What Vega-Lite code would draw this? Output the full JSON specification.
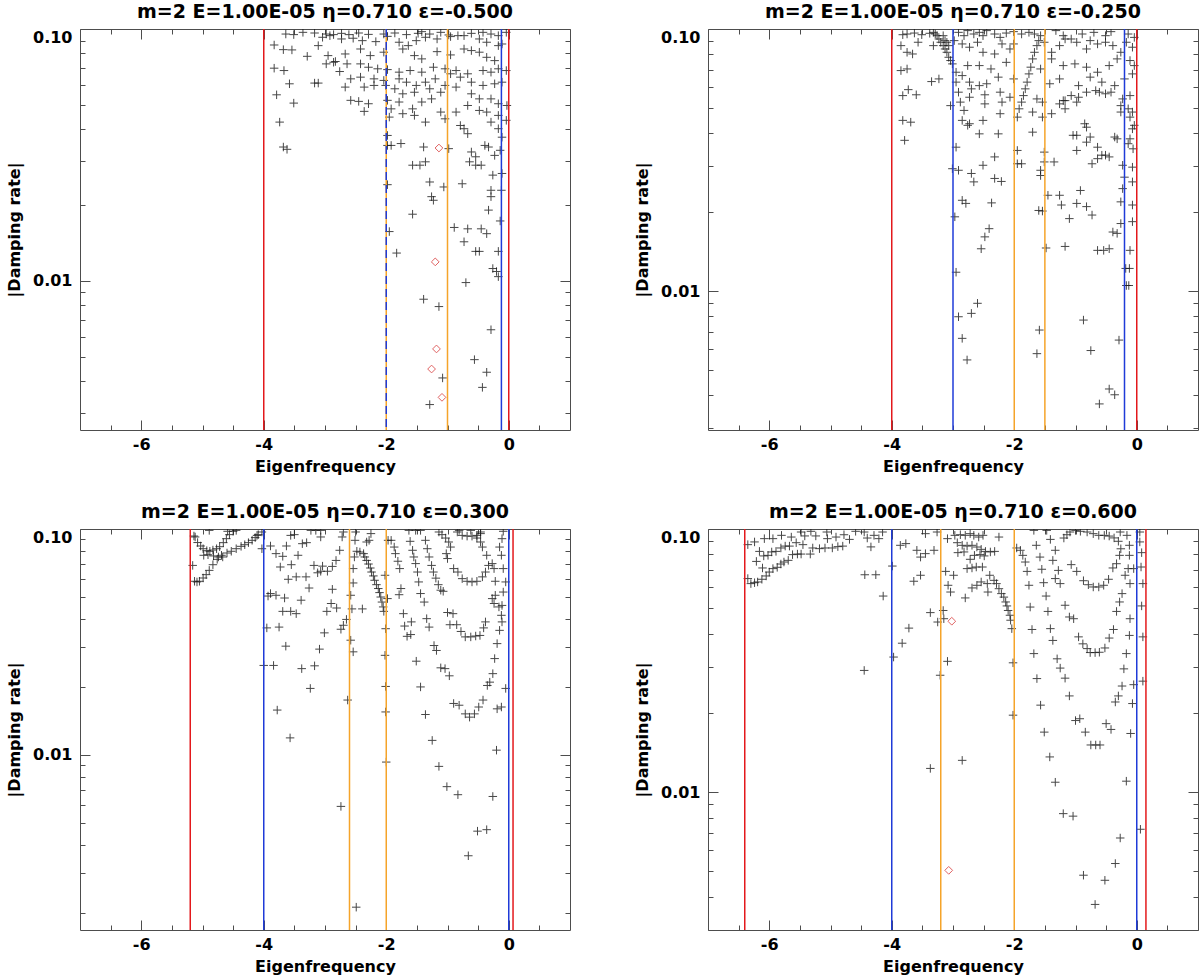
{
  "$schema": "https://vega.github.io/schema/vega-lite/v6.json",
  "background": "white",
  "padding": {"left": 6, "top": 2, "right": 2, "bottom": 2},
  "columns": 2,
  "bounds": "flush",
  "spacing": {"row": 99, "column": 138},
  "datasets": {
    "lines": [
      {"p": 1, "x": -4, "c": "red", "d": "s"}, {"p": 1, "x": 0, "c": "red", "d": "s"}, {"p": 1, "x": -0.12, "c": "blue", "d": "s"}, {"p": 1, "x": -1, "c": "orange", "d": "s"}, {"p": 1, "x": -2, "c": "orange", "d": "s"}, {"p": 1, "x": -2, "c": "blue", "d": "d"},
      {"p": 2, "x": -4, "c": "red", "d": "s"}, {"p": 2, "x": 0, "c": "red", "d": "s"}, {"p": 2, "x": -3, "c": "blue", "d": "s"}, {"p": 2, "x": -0.2, "c": "blue", "d": "s"}, {"p": 2, "x": -2, "c": "orange", "d": "s"}, {"p": 2, "x": -1.5, "c": "orange", "d": "s"},
      {"p": 3, "x": -5.2, "c": "red", "d": "s"}, {"p": 3, "x": 0.07, "c": "red", "d": "s"}, {"p": 3, "x": -4, "c": "blue", "d": "s"}, {"p": 3, "x": 0, "c": "blue", "d": "s"}, {"p": 3, "x": -2.6, "c": "orange", "d": "s"}, {"p": 3, "x": -2, "c": "orange", "d": "s"},
      {"p": 4, "x": -6.4, "c": "red", "d": "s"}, {"p": 4, "x": 0.15, "c": "red", "d": "s"}, {"p": 4, "x": -4, "c": "blue", "d": "s"}, {"p": 4, "x": 0, "c": "blue", "d": "s"}, {"p": 4, "x": -3.2, "c": "orange", "d": "s"}, {"p": 4, "x": -2, "c": "orange", "d": "s"}
    ],
    "dia": [
      {"p": 1, "x": -1.14, "y": 0.0337}, {"p": 1, "x": -1.2, "y": 0.0119}, {"p": 1, "x": -1.18, "y": 0.00537}, {"p": 1, "x": -1.26, "y": 0.00447}, {"p": 1, "x": -1.09, "y": 0.00345},
      {"p": 4, "x": -3.02, "y": 0.0446}, {"p": 4, "x": -3.07, "y": 0.00504}
    ],
    "pts": [
      {"p":1,"x":-3.64,"y":0.0955},{"p":1,"x":-3.51,"y":0.095},{"p":1,"x":-3.36,"y":0.097},{"p":1,"x":-3.17,"y":0.0964},{"p":1,"x":-2.98,"y":0.0955},{"p":1,"x":-2.86,"y":0.095},{"p":1,"x":-2.73,"y":0.0961},{"p":1,"x":-2.61,"y":0.095},{"p":1,"x":-2.45,"y":0.0964},{"p":1,"x":-2.29,"y":0.0952},{"p":1,"x":-2.04,"y":0.0955},{"p":1,"x":-1.86,"y":0.0964},{"p":1,"x":-1.67,"y":0.095},{"p":1,"x":-1.48,"y":0.0961},{"p":1,"x":-1.42,"y":0.0976},{"p":1,"x":-1.29,"y":0.0955},{"p":1,"x":-1.11,"y":0.097},{"p":1,"x":-0.98,"y":0.0947},{"p":1,"x":-0.83,"y":0.0941},{"p":1,"x":-0.61,"y":0.0961},{"p":1,"x":-0.42,"y":0.097},{"p":1,"x":-0.29,"y":0.0955},{"p":1,"x":-0.17,"y":0.0941},{"p":1,"x":-0.04,"y":0.097},
      {"p":1,"x":-3.04,"y":0.0927},{"p":1,"x":-2.92,"y":0.0941},{"p":1,"x":-2.73,"y":0.0913},{"p":1,"x":-2.54,"y":0.0919},{"p":1,"x":-2.39,"y":0.0899},{"p":1,"x":-2.17,"y":0.0891},{"p":1,"x":-1.98,"y":0.0935},{"p":1,"x":-1.79,"y":0.0886},{"p":1,"x":-1.64,"y":0.0859},{"p":1,"x":-1.51,"y":0.0899},{"p":1,"x":-1.36,"y":0.0927},{"p":1,"x":-1.17,"y":0.0913},{"p":1,"x":-0.95,"y":0.0933},{"p":1,"x":-0.73,"y":0.0941},{"p":1,"x":-0.48,"y":0.0913},{"p":1,"x":-0.36,"y":0.0886},{"p":1,"x":-0.11,"y":0.0872},{"p":1,"x":-0.17,"y":0.0859},
      {"p":1,"x":-3.83,"y":0.0864},{"p":1,"x":-3.68,"y":0.0828},{"p":1,"x":-3.54,"y":0.0826},{"p":1,"x":-3.29,"y":0.0779},{"p":1,"x":-2.95,"y":0.0784},{"p":1,"x":-3.11,"y":0.0859},{"p":1,"x":-2.86,"y":0.0738},{"p":1,"x":-2.67,"y":0.0796},{"p":1,"x":-2.42,"y":0.0833},{"p":1,"x":-2.26,"y":0.0784},{"p":1,"x":-2.04,"y":0.0809},{"p":1,"x":-1.73,"y":0.0833},{"p":1,"x":-1.54,"y":0.0784},{"p":1,"x":-1.42,"y":0.0761},{"p":1,"x":-1.17,"y":0.0813},{"p":1,"x":-0.95,"y":0.0789},{"p":1,"x":-0.73,"y":0.0833},{"p":1,"x":-0.61,"y":0.0821},{"p":1,"x":-0.48,"y":0.0809},{"p":1,"x":-0.36,"y":0.0772},{"p":1,"x":-0.23,"y":0.0749},
      {"p":1,"x":-2.98,"y":0.0727},{"p":1,"x":-2.83,"y":0.0743},{"p":1,"x":-2.64,"y":0.0727},{"p":1,"x":-2.42,"y":0.0727},{"p":1,"x":-2.29,"y":0.0705},{"p":1,"x":-2.14,"y":0.0695},{"p":1,"x":-1.98,"y":0.069},{"p":1,"x":-1.79,"y":0.0674},{"p":1,"x":-1.61,"y":0.0684},{"p":1,"x":-1.42,"y":0.0674},{"p":1,"x":-1.23,"y":0.0705},{"p":1,"x":-1.04,"y":0.0695},{"p":1,"x":-0.86,"y":0.0684},{"p":1,"x":-0.67,"y":0.0664},{"p":1,"x":-0.42,"y":0.0684},{"p":1,"x":-0.17,"y":0.0695},{"p":1,"x":-0.04,"y":0.0684},{"p":1,"x":-0.29,"y":0.0674},
      {"p":1,"x":-3.83,"y":0.0699},{"p":1,"x":-3.67,"y":0.0684},{"p":1,"x":-2.76,"y":0.0678},{"p":1,"x":-2.58,"y":0.0634},{"p":1,"x":-2.42,"y":0.0644},{"p":1,"x":-2.2,"y":0.0634},{"p":1,"x":-2.04,"y":0.0625},{"p":1,"x":-1.79,"y":0.0634},{"p":1,"x":-1.67,"y":0.0615},{"p":1,"x":-1.51,"y":0.0597},{"p":1,"x":-1.36,"y":0.0615},{"p":1,"x":-1.2,"y":0.0634},{"p":1,"x":-1.04,"y":0.0597},{"p":1,"x":-0.95,"y":0.0664},{"p":1,"x":-0.79,"y":0.0644},{"p":1,"x":-0.61,"y":0.0615},{"p":1,"x":-0.42,"y":0.0597},{"p":1,"x":-0.23,"y":0.0606},{"p":1,"x":-0.11,"y":0.0615},
      {"p":1,"x":-3.58,"y":0.0606},{"p":1,"x":-3.17,"y":0.061},{"p":1,"x":-3.11,"y":0.061},{"p":1,"x":-2.67,"y":0.0588},{"p":1,"x":-2.36,"y":0.0588},{"p":1,"x":-2.2,"y":0.0597},{"p":1,"x":-2.01,"y":0.0597},{"p":1,"x":-1.86,"y":0.0579},{"p":1,"x":-1.73,"y":0.0553},{"p":1,"x":-1.54,"y":0.0561},{"p":1,"x":-1.29,"y":0.0579},{"p":1,"x":-1.11,"y":0.0561},{"p":1,"x":-0.86,"y":0.0588},{"p":1,"x":-0.61,"y":0.0553},{"p":1,"x":-0.48,"y":0.0528},{"p":1,"x":-0.29,"y":0.0528},{"p":1,"x":-0.17,"y":0.0505},{"p":1,"x":-0.03,"y":0.0497},
      {"p":1,"x":-3.79,"y":0.0548},{"p":1,"x":-3.51,"y":0.0508},{"p":1,"x":-2.58,"y":0.0521},{"p":1,"x":-2.45,"y":0.0516},{"p":1,"x":-2.29,"y":0.0505},{"p":1,"x":-1.98,"y":0.0521},{"p":1,"x":-1.79,"y":0.0513},{"p":1,"x":-1.57,"y":0.0482},{"p":1,"x":-1.42,"y":0.0513},{"p":1,"x":-1.26,"y":0.0528},{"p":1,"x":-1.11,"y":0.0468},{"p":1,"x":-0.86,"y":0.0468},{"p":1,"x":-0.67,"y":0.0497},{"p":1,"x":-0.48,"y":0.0475},{"p":1,"x":-0.36,"y":0.0468},{"p":1,"x":-0.17,"y":0.0454},{"p":1,"x":-0.04,"y":0.0434},
      {"p":1,"x":-2.36,"y":0.0471},{"p":1,"x":-1.95,"y":0.0447},{"p":1,"x":-1.92,"y":0.0482},{"p":1,"x":-1.73,"y":0.0461},{"p":1,"x":-1.54,"y":0.0454},{"p":1,"x":-1.36,"y":0.0427},{"p":1,"x":-1.04,"y":0.044},{"p":1,"x":-0.79,"y":0.0414},{"p":1,"x":-0.73,"y":0.0402},{"p":1,"x":-0.67,"y":0.0384},{"p":1,"x":-0.29,"y":0.0427},{"p":1,"x":-0.17,"y":0.0402},{"p":1,"x":-0.11,"y":0.0372},
      {"p":1,"x":-3.74,"y":0.0427},{"p":1,"x":-1.98,"y":0.0378},{"p":1,"x":-1.98,"y":0.0345},{"p":1,"x":-1.92,"y":0.0345},{"p":1,"x":-1.76,"y":0.0351},{"p":1,"x":-1.39,"y":0.034},{"p":1,"x":-0.98,"y":0.0335},{"p":1,"x":-0.61,"y":0.0325},{"p":1,"x":-0.54,"y":0.0311},{"p":1,"x":-0.39,"y":0.0345},{"p":1,"x":-0.33,"y":0.034},{"p":1,"x":-0.23,"y":0.0315},{"p":1,"x":-0.14,"y":0.033},
      {"p":1,"x":-3.68,"y":0.034},{"p":1,"x":-3.62,"y":0.0333},
      {"p":1,"x":-1.57,"y":0.0288},{"p":1,"x":-1.45,"y":0.0288},{"p":1,"x":-1.36,"y":0.0297},{"p":1,"x":-0.64,"y":0.0297},{"p":1,"x":-0.54,"y":0.0288},{"p":1,"x":-0.45,"y":0.0288},{"p":1,"x":-0.26,"y":0.0263},{"p":1,"x":-0.11,"y":0.0267},
      {"p":1,"x":-1.29,"y":0.0247},{"p":1,"x":-1.06,"y":0.0236},{"p":1,"x":-0.76,"y":0.0243},{"p":1,"x":-1.98,"y":0.0241},{"p":1,"x":-0.29,"y":0.0229},{"p":1,"x":-0.12,"y":0.0229},
      {"p":1,"x":-1.26,"y":0.0216},{"p":1,"x":-1.23,"y":0.0209},{"p":1,"x":-0.29,"y":0.0216},
      {"p":1,"x":-0.33,"y":0.0191},{"p":1,"x":-1.57,"y":0.0184},{"p":1,"x":-0.14,"y":0.0173},
      {"p":1,"x":-1.95,"y":0.0157},{"p":1,"x":-0.89,"y":0.0163},{"p":1,"x":-0.67,"y":0.0161},{"p":1,"x":-0.45,"y":0.0161},{"p":1,"x":-0.36,"y":0.0154},{"p":1,"x":-0.73,"y":0.0143},{"p":1,"x":-0.54,"y":0.0131},{"p":1,"x":-0.48,"y":0.0131},{"p":1,"x":-1.83,"y":0.0129},{"p":1,"x":-0.17,"y":0.0131},
      {"p":1,"x":-0.26,"y":0.0112},{"p":1,"x":-0.2,"y":0.0109},{"p":1,"x":-0.17,"y":0.0104},{"p":1,"x":-0.7,"y":0.00985},
      {"p":1,"x":-1.39,"y":0.00846},{"p":1,"x":-1.14,"y":0.00791},{"p":1,"x":-0.29,"y":0.0064},
      {"p":1,"x":-0.56,"y":0.00487},{"p":1,"x":-0.36,"y":0.00434},{"p":1,"x":-1.08,"y":0.00412},{"p":1,"x":-0.43,"y":0.00378},{"p":1,"x":-1.29,"y":0.00323},

      {"p":2,"x":-3.82,"y":0.0951},{"p":2,"x":-3.75,"y":0.0957},{"p":2,"x":-3.63,"y":0.0965},{"p":2,"x":-3.51,"y":0.0951},{"p":2,"x":-3.38,"y":0.0963},{"p":2,"x":-3.32,"y":0.0971},{"p":2,"x":-2.91,"y":0.0971},{"p":2,"x":-2.82,"y":0.0943},{"p":2,"x":-2.76,"y":0.0986},{"p":2,"x":-2.66,"y":0.0957},{"p":2,"x":-2.57,"y":0.0971},{"p":2,"x":-2.51,"y":0.0943},{"p":2,"x":-2.45,"y":0.0986},{"p":2,"x":-2.32,"y":0.0957},{"p":2,"x":-2.23,"y":0.0929},{"p":2,"x":-2.13,"y":0.0965},{"p":2,"x":-2.01,"y":0.0977},{"p":2,"x":-1.88,"y":0.0957},{"p":2,"x":-1.76,"y":0.0971},{"p":2,"x":-1.67,"y":0.0957},{"p":2,"x":-1.57,"y":0.0943},{"p":2,"x":-1.32,"y":0.0986},{"p":2,"x":-1.2,"y":0.0943},{"p":2,"x":-1.07,"y":0.0916},{"p":2,"x":-0.89,"y":0.0957},{"p":2,"x":-0.7,"y":0.0971},{"p":2,"x":-0.51,"y":0.0943},{"p":2,"x":-0.42,"y":0.0977},{"p":2,"x":-0.14,"y":0.0957},{"p":2,"x":-0.04,"y":0.0929},
      {"p":2,"x":-3.26,"y":0.0943},{"p":2,"x":-3.23,"y":0.0916},{"p":2,"x":-3.2,"y":0.089},{"p":2,"x":-3.16,"y":0.0864},{"p":2,"x":-3.13,"y":0.0839},{"p":2,"x":-3.1,"y":0.0815},{"p":2,"x":-3.07,"y":0.078},{"p":2,"x":-3.04,"y":0.0758},{"p":2,"x":-3.01,"y":0.0736},{"p":2,"x":-3.29,"y":0.0957},{"p":2,"x":-3.13,"y":0.0903},{"p":2,"x":-3.07,"y":0.0864},{"p":2,"x":-3.16,"y":0.0943},{"p":2,"x":-3.1,"y":0.089},
      {"p":2,"x":-1.95,"y":0.0461},{"p":2,"x":-1.92,"y":0.0496},{"p":2,"x":-1.88,"y":0.0526},{"p":2,"x":-1.85,"y":0.0557},{"p":2,"x":-1.82,"y":0.0591},{"p":2,"x":-1.79,"y":0.0627},{"p":2,"x":-1.76,"y":0.0674},{"p":2,"x":-1.73,"y":0.0715},{"p":2,"x":-1.7,"y":0.0769},{"p":2,"x":-1.67,"y":0.0815},{"p":2,"x":-1.63,"y":0.0864},{"p":2,"x":-1.6,"y":0.0903},
      {"p":2,"x":-3.85,"y":0.0864},{"p":2,"x":-3.75,"y":0.0815},{"p":2,"x":-3.66,"y":0.0803},{"p":2,"x":-3.57,"y":0.089},{"p":2,"x":-3.32,"y":0.0864},{"p":2,"x":-2.98,"y":0.0903},{"p":2,"x":-2.85,"y":0.0877},{"p":2,"x":-2.73,"y":0.0852},{"p":2,"x":-2.6,"y":0.089},{"p":2,"x":-2.51,"y":0.0815},{"p":2,"x":-2.32,"y":0.0803},{"p":2,"x":-2.2,"y":0.0877},{"p":2,"x":-2.07,"y":0.0839},{"p":2,"x":-2.01,"y":0.0877},{"p":2,"x":-1.51,"y":0.089},{"p":2,"x":-1.39,"y":0.0815},{"p":2,"x":-1.26,"y":0.0864},{"p":2,"x":-1.17,"y":0.0916},{"p":2,"x":-0.98,"y":0.089},{"p":2,"x":-0.82,"y":0.0839},{"p":2,"x":-0.76,"y":0.0903},{"p":2,"x":-0.64,"y":0.0877},{"p":2,"x":-0.51,"y":0.089},{"p":2,"x":-0.39,"y":0.0864},{"p":2,"x":-0.26,"y":0.0815},{"p":2,"x":-0.17,"y":0.089},{"p":2,"x":-0.07,"y":0.0852},
      {"p":2,"x":-3.85,"y":0.0694},{"p":2,"x":-3.75,"y":0.0704},{"p":2,"x":-2.95,"y":0.0684},{"p":2,"x":-2.85,"y":0.0664},{"p":2,"x":-2.76,"y":0.0725},{"p":2,"x":-2.57,"y":0.0725},{"p":2,"x":-2.38,"y":0.0704},{"p":2,"x":-2.13,"y":0.0746},{"p":2,"x":-1.57,"y":0.0704},{"p":2,"x":-1.39,"y":0.0769},{"p":2,"x":-1.2,"y":0.0725},{"p":2,"x":-1.01,"y":0.0736},{"p":2,"x":-0.82,"y":0.0715},{"p":2,"x":-0.64,"y":0.0684},{"p":2,"x":-0.45,"y":0.0725},{"p":2,"x":-0.32,"y":0.0769},{"p":2,"x":-0.11,"y":0.0758},{"p":2,"x":-0.04,"y":0.0725},
      {"p":2,"x":-3.35,"y":0.063},{"p":2,"x":-3.23,"y":0.0645},{"p":2,"x":-2.95,"y":0.0627},{"p":2,"x":-2.73,"y":0.0627},{"p":2,"x":-2.7,"y":0.0591},{"p":2,"x":-2.57,"y":0.0608},{"p":2,"x":-2.45,"y":0.0618},{"p":2,"x":-2.26,"y":0.0655},{"p":2,"x":-2.01,"y":0.0645},{"p":2,"x":-1.42,"y":0.0618},{"p":2,"x":-1.26,"y":0.0645},{"p":2,"x":-0.95,"y":0.0608},{"p":2,"x":-0.76,"y":0.0655},{"p":2,"x":-0.57,"y":0.0627},{"p":2,"x":-0.36,"y":0.0608},{"p":2,"x":-0.2,"y":0.0645},{"p":2,"x":-0.07,"y":0.0674},
      {"p":2,"x":-3.82,"y":0.0557},{"p":2,"x":-3.73,"y":0.0587},{"p":2,"x":-3.6,"y":0.0561},{"p":2,"x":-2.91,"y":0.0574},{"p":2,"x":-2.73,"y":0.0549},{"p":2,"x":-2.48,"y":0.0561},{"p":2,"x":-2.23,"y":0.0574},{"p":2,"x":-2.07,"y":0.0549},{"p":2,"x":-1.63,"y":0.0541},{"p":2,"x":-1.2,"y":0.0533},{"p":2,"x":-1.07,"y":0.0557},{"p":2,"x":-0.95,"y":0.0549},{"p":2,"x":-0.82,"y":0.0574},{"p":2,"x":-0.67,"y":0.0582},{"p":2,"x":-0.61,"y":0.0574},{"p":2,"x":-0.51,"y":0.0566},{"p":2,"x":-0.42,"y":0.0574},{"p":2,"x":-0.23,"y":0.0541},{"p":2,"x":-0.11,"y":0.0557},
      {"p":2,"x":-3.04,"y":0.051},{"p":2,"x":-2.88,"y":0.0526},{"p":2,"x":-2.82,"y":0.0489},{"p":2,"x":-2.48,"y":0.0518},{"p":2,"x":-2.2,"y":0.0526},{"p":2,"x":-1.54,"y":0.0526},{"p":2,"x":-1.26,"y":0.0518},{"p":2,"x":-1.17,"y":0.0533},{"p":2,"x":-0.98,"y":0.0526},{"p":2,"x":-0.26,"y":0.051},{"p":2,"x":-0.14,"y":0.0496},{"p":2,"x":-0.07,"y":0.0482},
      {"p":2,"x":-2.85,"y":0.0448},{"p":2,"x":-2.73,"y":0.0435},{"p":2,"x":-2.51,"y":0.0448},{"p":2,"x":-2.23,"y":0.0475},{"p":2,"x":-1.7,"y":0.0482},{"p":2,"x":-1.54,"y":0.0461},{"p":2,"x":-1.39,"y":0.0475},{"p":2,"x":-1.17,"y":0.0496},{"p":2,"x":-0.85,"y":0.0435},{"p":2,"x":-0.82,"y":0.0422},{"p":2,"x":-0.26,"y":0.0482},{"p":2,"x":-0.11,"y":0.0461},
      {"p":2,"x":-3.82,"y":0.0448},{"p":2,"x":-3.69,"y":0.0441},{"p":2,"x":-2.76,"y":0.0429},{"p":2,"x":-2.57,"y":0.0398},{"p":2,"x":-2.26,"y":0.0398},{"p":2,"x":-1.7,"y":0.0404},{"p":2,"x":-1.04,"y":0.0393},{"p":2,"x":-0.98,"y":0.0393},{"p":2,"x":-0.76,"y":0.0387},{"p":2,"x":-0.36,"y":0.0387},{"p":2,"x":-0.32,"y":0.0381},{"p":2,"x":-0.11,"y":0.0381},{"p":2,"x":-0.07,"y":0.0416},{"p":2,"x":-0.04,"y":0.0429},
      {"p":2,"x":-3.79,"y":0.0376},{"p":2,"x":-2.95,"y":0.0354},{"p":2,"x":-1.95,"y":0.0344},{"p":2,"x":-1.51,"y":0.0339},{"p":2,"x":-0.98,"y":0.0344},{"p":2,"x":-0.82,"y":0.037},{"p":2,"x":-0.64,"y":0.0354},{"p":2,"x":-0.14,"y":0.0365},{"p":2,"x":-0.06,"y":0.0349},
      {"p":2,"x":-3.01,"y":0.0293},{"p":2,"x":-2.91,"y":0.0289},{"p":2,"x":-2.51,"y":0.0302},{"p":2,"x":-2.32,"y":0.0325},{"p":2,"x":-1.95,"y":0.0306},{"p":2,"x":-1.88,"y":0.0306},{"p":2,"x":-1.57,"y":0.0289},{"p":2,"x":-1.51,"y":0.0311},{"p":2,"x":-1.35,"y":0.0311},{"p":2,"x":-0.73,"y":0.0306},{"p":2,"x":-0.64,"y":0.032},{"p":2,"x":-0.57,"y":0.033},{"p":2,"x":-0.51,"y":0.033},{"p":2,"x":-0.45,"y":0.0325},{"p":2,"x":-0.23,"y":0.0302},{"p":2,"x":-0.07,"y":0.0297},
      {"p":2,"x":-2.7,"y":0.0281},{"p":2,"x":-2.66,"y":0.0261},{"p":2,"x":-2.32,"y":0.0269},{"p":2,"x":-2.21,"y":0.0262},{"p":2,"x":-1.57,"y":0.0276},{"p":2,"x":-0.2,"y":0.0272},{"p":2,"x":-0.07,"y":0.0261},
      {"p":2,"x":-1.45,"y":0.0232},{"p":2,"x":-1.26,"y":0.0232},{"p":2,"x":-0.92,"y":0.0242},{"p":2,"x":-0.23,"y":0.0246},
      {"p":2,"x":-2.85,"y":0.0222},{"p":2,"x":-2.79,"y":0.0216},{"p":2,"x":-2.37,"y":0.0217},{"p":2,"x":-1.6,"y":0.0203},{"p":2,"x":-1.54,"y":0.0202},{"p":2,"x":-1.23,"y":0.0213},{"p":2,"x":-0.98,"y":0.0216},{"p":2,"x":-0.82,"y":0.021},{"p":2,"x":-0.73,"y":0.0195},{"p":2,"x":-1.1,"y":0.0189},{"p":2,"x":-0.26,"y":0.0219},{"p":2,"x":-0.07,"y":0.0213},
      {"p":2,"x":-2.97,"y":0.0192},{"p":2,"x":-2.41,"y":0.0173},{"p":2,"x":-2.48,"y":0.0161},{"p":2,"x":-0.26,"y":0.0181},{"p":2,"x":-0.07,"y":0.0184},
      {"p":2,"x":-2.54,"y":0.0145},{"p":2,"x":-1.48,"y":0.0146},{"p":2,"x":-1.17,"y":0.0148},{"p":2,"x":-0.64,"y":0.0143},{"p":2,"x":-0.54,"y":0.0143},{"p":2,"x":-0.45,"y":0.0145},{"p":2,"x":-0.39,"y":0.0168},{"p":2,"x":-0.32,"y":0.0166},{"p":2,"x":-0.11,"y":0.0143},
      {"p":2,"x":-0.18,"y":0.0122},{"p":2,"x":-0.12,"y":0.0122},{"p":2,"x":-2.95,"y":0.0118},{"p":2,"x":-0.17,"y":0.0105},{"p":2,"x":-0.13,"y":0.0105},
      {"p":2,"x":-2.6,"y":0.00898},{"p":2,"x":-2.7,"y":0.00822},{"p":2,"x":-2.91,"y":0.00798},{"p":2,"x":-0.87,"y":0.00775},
      {"p":2,"x":-1.59,"y":0.0071},{"p":2,"x":-2.85,"y":0.0066},{"p":2,"x":-0.29,"y":0.0065},{"p":2,"x":-1.63,"y":0.00577},{"p":2,"x":-0.75,"y":0.00593},{"p":2,"x":-2.77,"y":0.00546},
      {"p":2,"x":-0.45,"y":0.00423},{"p":2,"x":-0.36,"y":0.00402},{"p":2,"x":-0.61,"y":0.00371},

      {"p":3,"x":-5.13,"y":0.0587},{"p":3,"x":-5.09,"y":0.0583},{"p":3,"x":-5.05,"y":0.0587},{"p":3,"x":-4.99,"y":0.0607},{"p":3,"x":-4.94,"y":0.0628},{"p":3,"x":-4.89,"y":0.0656},{"p":3,"x":-4.83,"y":0.0695},{"p":3,"x":-4.76,"y":0.0734},{"p":3,"x":-4.69,"y":0.0765},{"p":3,"x":-4.6,"y":0.0783},{"p":3,"x":-4.53,"y":0.0797},{"p":3,"x":-4.45,"y":0.0818},{"p":3,"x":-4.37,"y":0.0838},{"p":3,"x":-4.31,"y":0.0852},{"p":3,"x":-4.25,"y":0.087},{"p":3,"x":-4.19,"y":0.0891},{"p":3,"x":-4.14,"y":0.0916},{"p":3,"x":-4.09,"y":0.0944},{"p":3,"x":-4.03,"y":0.097},
      {"p":3,"x":-5.12,"y":0.0922},{"p":3,"x":-5.08,"y":0.0871},{"p":3,"x":-5.03,"y":0.0841},{"p":3,"x":-4.99,"y":0.0818},{"p":3,"x":-4.93,"y":0.0802},{"p":3,"x":-4.88,"y":0.0797},{"p":3,"x":-4.83,"y":0.0807},{"p":3,"x":-4.77,"y":0.0818},{"p":3,"x":-4.72,"y":0.0835},{"p":3,"x":-4.66,"y":0.087},{"p":3,"x":-4.61,"y":0.0906},{"p":3,"x":-4.56,"y":0.0944},{"p":3,"x":-4.5,"y":0.0977},{"p":3,"x":-4.45,"y":0.0986},
      {"p":3,"x":-4.98,"y":0.0765},{"p":3,"x":-4.91,"y":0.0769},{"p":3,"x":-4.82,"y":0.076},{"p":3,"x":-4.74,"y":0.0752},{"p":3,"x":-4.67,"y":0.0752},{"p":3,"x":-5.16,"y":0.069},{"p":3,"x":-5.14,"y":0.0931},{"p":3,"x":-4.89,"y":0.0986},{"p":3,"x":-4.59,"y":0.0977},{"p":3,"x":-4.11,"y":0.0937},
      {"p":3,"x":-4.03,"y":0.0818},{"p":3,"x":-3.89,"y":0.0841},{"p":3,"x":-3.8,"y":0.0778},{"p":3,"x":-3.69,"y":0.0757},{"p":3,"x":-3.73,"y":0.0679},{"p":3,"x":-3.63,"y":0.0841},{"p":3,"x":-3.55,"y":0.0695},{"p":3,"x":-3.6,"y":0.0599},{"p":3,"x":-3.47,"y":0.0614},{"p":3,"x":-3.31,"y":0.0614},{"p":3,"x":-3.26,"y":0.0548},{"p":3,"x":-3.44,"y":0.0765},{"p":3,"x":-3.37,"y":0.0861},{"p":3,"x":-3.3,"y":0.087},{"p":3,"x":-3.56,"y":0.0937},{"p":3,"x":-3.5,"y":0.0944},{"p":3,"x":-3.23,"y":0.0986},{"p":3,"x":-3.15,"y":0.0986},{"p":3,"x":-3.07,"y":0.0986},{"p":3,"x":-3.07,"y":0.0922},
      {"p":3,"x":-3.89,"y":0.0518},{"p":3,"x":-3.8,"y":0.0509},{"p":3,"x":-3.66,"y":0.0495},{"p":3,"x":-3.93,"y":0.0505},{"p":3,"x":-3.69,"y":0.0432},{"p":3,"x":-3.56,"y":0.0432},{"p":3,"x":-3.47,"y":0.0422},{"p":3,"x":-3.39,"y":0.0484},{"p":3,"x":-3.95,"y":0.0365},{"p":3,"x":-3.75,"y":0.0368},{"p":3,"x":-3.64,"y":0.0303},{"p":3,"x":-4.0,"y":0.0249},{"p":3,"x":-3.84,"y":0.0249},{"p":3,"x":-3.38,"y":0.0241},{"p":3,"x":-3.17,"y":0.0248},{"p":3,"x":-3.24,"y":0.0197},{"p":3,"x":-3.78,"y":0.0158},{"p":3,"x":-3.57,"y":0.0119},
      {"p":3,"x":-3.18,"y":0.069},{"p":3,"x":-3.04,"y":0.0685},{"p":3,"x":-2.96,"y":0.065},{"p":3,"x":-2.88,"y":0.0683},{"p":3,"x":-3.12,"y":0.064},{"p":3,"x":-3.07,"y":0.065},{"p":3,"x":-3.09,"y":0.0294},{"p":3,"x":-3.01,"y":0.0347},{"p":3,"x":-2.88,"y":0.0541},{"p":3,"x":-2.9,"y":0.0468},{"p":3,"x":-2.97,"y":0.0432},{"p":3,"x":-2.81,"y":0.0447},{"p":3,"x":-2.74,"y":0.036},{"p":3,"x":-2.7,"y":0.0375},{"p":3,"x":-2.65,"y":0.0398},{"p":3,"x":-2.82,"y":0.0726},{"p":3,"x":-2.76,"y":0.0805},{"p":3,"x":-2.72,"y":0.0922},{"p":3,"x":-2.7,"y":0.097},{"p":3,"x":-2.63,"y":0.0175},
      {"p":3,"x":-2.58,"y":0.0322},{"p":3,"x":-2.54,"y":0.0286},{"p":3,"x":-2.56,"y":0.0443},{"p":3,"x":-2.58,"y":0.0509},{"p":3,"x":-2.54,"y":0.0577},{"p":3,"x":-2.54,"y":0.0668},{"p":3,"x":-2.52,"y":0.0752},{"p":3,"x":-2.51,"y":0.0891},{"p":3,"x":-2.5,"y":0.097},
      {"p":3,"x":-2.48,"y":0.0797},{"p":3,"x":-2.43,"y":0.0791},{"p":3,"x":-2.37,"y":0.0778},{"p":3,"x":-2.35,"y":0.0752},{"p":3,"x":-2.32,"y":0.0726},{"p":3,"x":-2.29,"y":0.07},{"p":3,"x":-2.26,"y":0.0672},{"p":3,"x":-2.24,"y":0.0645},{"p":3,"x":-2.21,"y":0.062},{"p":3,"x":-2.19,"y":0.0593},{"p":3,"x":-2.16,"y":0.0567},{"p":3,"x":-2.13,"y":0.0545},{"p":3,"x":-2.11,"y":0.0523},{"p":3,"x":-2.09,"y":0.05},{"p":3,"x":-2.07,"y":0.0475},{"p":3,"x":-2.05,"y":0.0452},{"p":3,"x":-2.04,"y":0.0432},
      {"p":3,"x":-2.39,"y":0.0443},{"p":3,"x":-2.32,"y":0.0876},{"p":3,"x":-2.28,"y":0.0891},{"p":3,"x":-2.25,"y":0.0954},
      {"p":3,"x":-2.01,"y":0.0362},{"p":3,"x":-2.02,"y":0.0276},{"p":3,"x":-2.01,"y":0.0201},{"p":3,"x":-2.01,"y":0.0155},{"p":3,"x":-1.98,"y":0.0492},{"p":3,"x":-2.02,"y":0.0624},{"p":3,"x":-1.97,"y":0.0891},{"p":3,"x":-1.92,"y":0.0891},{"p":3,"x":-1.87,"y":0.0832},{"p":3,"x":-1.85,"y":0.0778},{"p":3,"x":-1.81,"y":0.072},{"p":3,"x":-1.78,"y":0.0668},{"p":3,"x":-1.76,"y":0.0545},{"p":3,"x":-1.79,"y":0.0512},{"p":3,"x":-1.72,"y":0.0422},{"p":3,"x":-1.7,"y":0.0372},{"p":3,"x":-1.66,"y":0.0335},{"p":3,"x":-1.6,"y":0.0341},{"p":3,"x":-1.59,"y":0.0388},
      {"p":3,"x":-1.63,"y":0.0986},{"p":3,"x":-1.52,"y":0.0986},{"p":3,"x":-1.44,"y":0.0986},{"p":3,"x":-1.61,"y":0.0882},{"p":3,"x":-1.57,"y":0.0805},{"p":3,"x":-1.55,"y":0.0752},{"p":3,"x":-1.52,"y":0.0703},{"p":3,"x":-1.49,"y":0.0645},{"p":3,"x":-1.47,"y":0.0583},{"p":3,"x":-1.44,"y":0.0518},{"p":3,"x":-1.38,"y":0.0475},{"p":3,"x":-1.34,"y":0.0401},{"p":3,"x":-1.3,"y":0.0368},{"p":3,"x":-1.51,"y":0.026},{"p":3,"x":-1.44,"y":0.02},{"p":3,"x":-1.36,"y":0.0151},{"p":3,"x":-1.25,"y":0.0116},
      {"p":3,"x":-1.36,"y":0.0891},{"p":3,"x":-1.33,"y":0.0818},{"p":3,"x":-1.3,"y":0.0752},{"p":3,"x":-1.26,"y":0.069},{"p":3,"x":-1.23,"y":0.0645},{"p":3,"x":-1.19,"y":0.0606},{"p":3,"x":-1.15,"y":0.0567},{"p":3,"x":-1.11,"y":0.0536},{"p":3,"x":-1.07,"y":0.053},
      {"p":3,"x":-1.14,"y":0.097},{"p":3,"x":-1.09,"y":0.0944},{"p":3,"x":-1.03,"y":0.0912},{"p":3,"x":-0.98,"y":0.0876},{"p":3,"x":-0.95,"y":0.0832},{"p":3,"x":-1.02,"y":0.0778},{"p":3,"x":-1.0,"y":0.074},
      {"p":3,"x":-1.22,"y":0.0305},{"p":3,"x":-1.18,"y":0.029},{"p":3,"x":-1.11,"y":0.0243},{"p":3,"x":-1.04,"y":0.0241},{"p":3,"x":-0.97,"y":0.0224},{"p":3,"x":-1.0,"y":0.0427},{"p":3,"x":-0.91,"y":0.0422},{"p":3,"x":-0.96,"y":0.0377},{"p":3,"x":-0.85,"y":0.0377},
      {"p":3,"x":-0.78,"y":0.0352},{"p":3,"x":-0.71,"y":0.0333},{"p":3,"x":-0.62,"y":0.0333},{"p":3,"x":-0.54,"y":0.0336},{"p":3,"x":-0.47,"y":0.0338},
      {"p":3,"x":-0.9,"y":0.0169},{"p":3,"x":-0.81,"y":0.0166},{"p":3,"x":-0.71,"y":0.0152},{"p":3,"x":-0.64,"y":0.0147},{"p":3,"x":-0.56,"y":0.0152},{"p":3,"x":-0.49,"y":0.0163},{"p":3,"x":-0.42,"y":0.0175},{"p":3,"x":-0.35,"y":0.0203},{"p":3,"x":-0.31,"y":0.021},{"p":3,"x":-0.26,"y":0.0229},{"p":3,"x":-0.23,"y":0.0267},{"p":3,"x":-0.19,"y":0.0311},
      {"p":3,"x":-0.15,"y":0.0356},{"p":3,"x":-0.11,"y":0.0388},{"p":3,"x":-0.12,"y":0.0415},{"p":3,"x":-0.16,"y":0.0452},{"p":3,"x":-0.24,"y":0.0468},{"p":3,"x":-0.27,"y":0.0492},{"p":3,"x":-0.22,"y":0.0509},
      {"p":3,"x":-0.11,"y":0.0459},{"p":3,"x":-0.09,"y":0.0526},{"p":3,"x":-0.05,"y":0.0583},{"p":3,"x":-0.09,"y":0.0668},{"p":3,"x":-0.12,"y":0.0765},{"p":3,"x":-0.15,"y":0.0832},{"p":3,"x":-0.11,"y":0.0906},{"p":3,"x":-0.09,"y":0.0977},
      {"p":3,"x":-0.22,"y":0.0587},{"p":3,"x":-0.24,"y":0.0668},{"p":3,"x":-0.27,"y":0.0703},{"p":3,"x":-0.33,"y":0.069},{"p":3,"x":-0.36,"y":0.0765},{"p":3,"x":-0.43,"y":0.0832},{"p":3,"x":-0.46,"y":0.0876},{"p":3,"x":-0.52,"y":0.0912},{"p":3,"x":-0.46,"y":0.0954},
      {"p":3,"x":-0.9,"y":0.0668},{"p":3,"x":-0.83,"y":0.0645},{"p":3,"x":-0.76,"y":0.0603},{"p":3,"x":-0.68,"y":0.0587},{"p":3,"x":-0.6,"y":0.0583},{"p":3,"x":-0.52,"y":0.0587},{"p":3,"x":-0.43,"y":0.0614},{"p":3,"x":-0.38,"y":0.0645},
      {"p":3,"x":-0.84,"y":0.097},{"p":3,"x":-0.76,"y":0.0937},{"p":3,"x":-0.68,"y":0.093},{"p":3,"x":-0.6,"y":0.093},{"p":3,"x":-0.52,"y":0.0937},{"p":3,"x":-0.46,"y":0.097},{"p":3,"x":-0.62,"y":0.0986},{"p":3,"x":-0.81,"y":0.0986},
      {"p":3,"x":-0.38,"y":0.0388},{"p":3,"x":-0.41,"y":0.0365},{"p":3,"x":-0.19,"y":0.016},{"p":3,"x":-0.12,"y":0.0163},{"p":3,"x":-0.05,"y":0.0197},
      {"p":3,"x":-0.2,"y":0.0105},{"p":3,"x":-1.14,"y":0.0089},{"p":3,"x":-1.01,"y":0.00724},{"p":3,"x":-0.83,"y":0.00667},{"p":3,"x":-0.26,"y":0.00655},{"p":3,"x":-2.74,"y":0.00592},{"p":3,"x":-0.51,"y":0.0046},{"p":3,"x":-0.36,"y":0.00467},{"p":3,"x":-0.66,"y":0.00358},{"p":3,"x":-2.49,"y":0.00212},{"p":3,"x":-2.0,"y":0.0093},

      {"p":4,"x":-6.3,"y":0.062},{"p":4,"x":-6.24,"y":0.0625},{"p":4,"x":-6.19,"y":0.0629},{"p":4,"x":-6.12,"y":0.0644},{"p":4,"x":-6.05,"y":0.0663},{"p":4,"x":-6.0,"y":0.0686},{"p":4,"x":-5.94,"y":0.0707},{"p":4,"x":-5.87,"y":0.0715},{"p":4,"x":-5.81,"y":0.0736},{"p":4,"x":-5.76,"y":0.0749},{"p":4,"x":-5.69,"y":0.076},{"p":4,"x":-5.62,"y":0.0799},{"p":4,"x":-5.54,"y":0.0803},{"p":4,"x":-5.48,"y":0.0803},{"p":4,"x":-5.33,"y":0.0803},
      {"p":4,"x":-6.16,"y":0.0822},{"p":4,"x":-6.09,"y":0.079},{"p":4,"x":-6.02,"y":0.0794},{"p":4,"x":-5.96,"y":0.0818},{"p":4,"x":-5.89,"y":0.0822},{"p":4,"x":-5.81,"y":0.0847},{"p":4,"x":-5.74,"y":0.0861},{"p":4,"x":-5.67,"y":0.0861},{"p":4,"x":-5.56,"y":0.0887},{"p":4,"x":-5.45,"y":0.0872},{"p":4,"x":-5.29,"y":0.0847},{"p":4,"x":-5.18,"y":0.0842},{"p":4,"x":-5.09,"y":0.0847},{"p":4,"x":-4.97,"y":0.0847},{"p":4,"x":-4.88,"y":0.0857},{"p":4,"x":-4.8,"y":0.0861},{"p":4,"x":-4.69,"y":0.0913},
      {"p":4,"x":-6.35,"y":0.0872},{"p":4,"x":-6.24,"y":0.0893},{"p":4,"x":-6.08,"y":0.0919},{"p":4,"x":-5.94,"y":0.0919},{"p":4,"x":-5.8,"y":0.0946},{"p":4,"x":-5.64,"y":0.0932},{"p":4,"x":-5.48,"y":0.0974},{"p":4,"x":-5.42,"y":0.0941},{"p":4,"x":-5.32,"y":0.098},{"p":4,"x":-5.24,"y":0.0941},{"p":4,"x":-5.06,"y":0.0974},{"p":4,"x":-5.05,"y":0.0919},{"p":4,"x":-4.91,"y":0.0932},{"p":4,"x":-4.78,"y":0.0951},{"p":4,"x":-4.59,"y":0.098},{"p":4,"x":-4.45,"y":0.0974},{"p":4,"x":-4.4,"y":0.0924},{"p":4,"x":-4.29,"y":0.0946},{"p":4,"x":-4.21,"y":0.0919},{"p":4,"x":-4.15,"y":0.0974},
      {"p":4,"x":-6.21,"y":0.0753},{"p":4,"x":-6.35,"y":0.0648},{"p":4,"x":-6.11,"y":0.0711},{"p":4,"x":-4.44,"y":0.067},{"p":4,"x":-4.26,"y":0.067},{"p":4,"x":-4.14,"y":0.0556},{"p":4,"x":-4.45,"y":0.029},{"p":4,"x":-3.97,"y":0.0326},{"p":4,"x":-3.99,"y":0.0723},{"p":4,"x":-4.34,"y":0.0855},
      {"p":4,"x":-3.86,"y":0.0867},{"p":4,"x":-3.77,"y":0.088},{"p":4,"x":-3.59,"y":0.083},{"p":4,"x":-3.53,"y":0.0782},{"p":4,"x":-3.45,"y":0.0806},{"p":4,"x":-3.31,"y":0.083},{"p":4,"x":-3.53,"y":0.0667},{"p":4,"x":-3.64,"y":0.0633},{"p":4,"x":-3.72,"y":0.042},{"p":4,"x":-3.83,"y":0.0368},{"p":4,"x":-3.37,"y":0.0481},{"p":4,"x":-3.25,"y":0.0443},{"p":4,"x":-3.21,"y":0.0278},{"p":4,"x":-3.09,"y":0.0314},{"p":4,"x":-3.12,"y":0.069},{"p":4,"x":-3.08,"y":0.0611},{"p":4,"x":-3.04,"y":0.0576},{"p":4,"x":-2.99,"y":0.0667},{"p":4,"x":-3.16,"y":0.049},{"p":4,"x":-3.15,"y":0.0456},{"p":4,"x":-3.26,"y":0.0974},{"p":4,"x":-3.45,"y":0.096},{"p":4,"x":-3.09,"y":0.0919},
      {"p":4,"x":-2.97,"y":0.0946},{"p":4,"x":-2.88,"y":0.0951},{"p":4,"x":-2.8,"y":0.0946},{"p":4,"x":-2.72,"y":0.096},{"p":4,"x":-2.66,"y":0.0946},{"p":4,"x":-2.58,"y":0.0932},{"p":4,"x":-2.51,"y":0.0946},{"p":4,"x":-2.93,"y":0.0887},{"p":4,"x":-2.85,"y":0.0867},{"p":4,"x":-2.77,"y":0.0861},{"p":4,"x":-2.69,"y":0.0867},{"p":4,"x":-2.61,"y":0.0854},{"p":4,"x":-2.54,"y":0.0837},{"p":4,"x":-2.47,"y":0.0822},{"p":4,"x":-2.39,"y":0.0818},{"p":4,"x":-2.32,"y":0.0822},{"p":4,"x":-2.92,"y":0.0813},{"p":4,"x":-2.82,"y":0.0818},{"p":4,"x":-2.72,"y":0.0767},{"p":4,"x":-2.65,"y":0.0794},{"p":4,"x":-2.56,"y":0.0799},{"p":4,"x":-2.49,"y":0.079},{"p":4,"x":-2.25,"y":0.0932},
      {"p":4,"x":-2.77,"y":0.0707},{"p":4,"x":-2.69,"y":0.0711},{"p":4,"x":-2.62,"y":0.0717},{"p":4,"x":-2.52,"y":0.0717},{"p":4,"x":-2.4,"y":0.0667},{"p":4,"x":-2.33,"y":0.0638},{"p":4,"x":-2.44,"y":0.062},{"p":4,"x":-2.54,"y":0.0629},{"p":4,"x":-2.61,"y":0.0611},{"p":4,"x":-2.69,"y":0.0597},{"p":4,"x":-2.8,"y":0.0547},{"p":4,"x":-2.43,"y":0.0576},{"p":4,"x":-2.29,"y":0.062},{"p":4,"x":-2.25,"y":0.0593},{"p":4,"x":-2.21,"y":0.0568},{"p":4,"x":-2.17,"y":0.0551},{"p":4,"x":-2.14,"y":0.0528},{"p":4,"x":-2.12,"y":0.051},{"p":4,"x":-2.1,"y":0.049},{"p":4,"x":-2.07,"y":0.047},{"p":4,"x":-2.06,"y":0.045},{"p":4,"x":-2.04,"y":0.0418},{"p":4,"x":-2.02,"y":0.031},{"p":4,"x":-2.02,"y":0.0196},
      {"p":4,"x":-1.96,"y":0.0847},{"p":4,"x":-1.9,"y":0.083},{"p":4,"x":-1.86,"y":0.0794},{"p":4,"x":-1.82,"y":0.0749},{"p":4,"x":-1.79,"y":0.069},{"p":4,"x":-1.76,"y":0.0611},{"p":4,"x":-1.74,"y":0.0505},{"p":4,"x":-1.71,"y":0.0415},{"p":4,"x":-1.68,"y":0.0336},{"p":4,"x":-1.63,"y":0.027},{"p":4,"x":-1.57,"y":0.0214},{"p":4,"x":-1.51,"y":0.0169},{"p":4,"x":-1.42,"y":0.0136},
      {"p":4,"x":-1.64,"y":0.0867},{"p":4,"x":-1.58,"y":0.0782},{"p":4,"x":-1.55,"y":0.0703},{"p":4,"x":-1.52,"y":0.0625},{"p":4,"x":-1.48,"y":0.0556},{"p":4,"x":-1.45,"y":0.0486},{"p":4,"x":-1.41,"y":0.0418},{"p":4,"x":-1.37,"y":0.0377},{"p":4,"x":-1.3,"y":0.0321},{"p":4,"x":-1.25,"y":0.0296},{"p":4,"x":-1.17,"y":0.0271},{"p":4,"x":-1.1,"y":0.0232},{"p":4,"x":-1.0,"y":0.0187},{"p":4,"x":-0.93,"y":0.019},{"p":4,"x":-0.84,"y":0.0169},{"p":4,"x":-0.75,"y":0.0151},{"p":4,"x":-0.67,"y":0.0151},{"p":4,"x":-0.6,"y":0.0151},{"p":4,"x":-0.5,"y":0.0182},{"p":4,"x":-0.42,"y":0.0173},{"p":4,"x":-0.35,"y":0.022},{"p":4,"x":-0.3,"y":0.0232},{"p":4,"x":-0.24,"y":0.0253},{"p":4,"x":-0.21,"y":0.0294},{"p":4,"x":-0.17,"y":0.0336},{"p":4,"x":-0.12,"y":0.0394},{"p":4,"x":-0.11,"y":0.0456},{"p":4,"x":-0.1,"y":0.0167},{"p":4,"x":-0.07,"y":0.0217},{"p":4,"x":-0.05,"y":0.0256},{"p":4,"x":0.1,"y":0.0264},{"p":4,"x":0.1,"y":0.0389},{"p":4,"x":0.08,"y":0.051},{"p":4,"x":0.1,"y":0.062},{"p":4,"x":0.07,"y":0.0717},{"p":4,"x":0.08,"y":0.0813},{"p":4,"x":0.05,"y":0.0893},{"p":4,"x":0.05,"y":0.0974},
      {"p":4,"x":-1.07,"y":0.0732},{"p":4,"x":-0.98,"y":0.069},{"p":4,"x":-0.87,"y":0.0636},{"p":4,"x":-0.79,"y":0.0614},{"p":4,"x":-0.71,"y":0.0602},{"p":4,"x":-0.62,"y":0.0602},{"p":4,"x":-0.54,"y":0.0611},{"p":4,"x":-0.46,"y":0.0644},{"p":4,"x":-0.39,"y":0.0711},{"p":4,"x":-0.33,"y":0.0738},{"p":4,"x":-0.28,"y":0.0794},{"p":4,"x":-0.26,"y":0.0841},{"p":4,"x":-0.3,"y":0.0898},{"p":4,"x":-0.37,"y":0.0925},{"p":4,"x":-0.45,"y":0.094},{"p":4,"x":-0.53,"y":0.0946},{"p":4,"x":-0.62,"y":0.0946},{"p":4,"x":-0.71,"y":0.096},{"p":4,"x":-0.81,"y":0.0974},{"p":4,"x":-0.92,"y":0.098},{"p":4,"x":-1.0,"y":0.0988},
      {"p":4,"x":-0.95,"y":0.0389},{"p":4,"x":-0.88,"y":0.0366},{"p":4,"x":-0.81,"y":0.0351},{"p":4,"x":-0.76,"y":0.0339},{"p":4,"x":-0.68,"y":0.0339},{"p":4,"x":-0.61,"y":0.034},{"p":4,"x":-0.52,"y":0.0353},{"p":4,"x":-0.45,"y":0.0385},{"p":4,"x":-0.38,"y":0.0415},{"p":4,"x":-0.33,"y":0.0486},{"p":4,"x":-0.28,"y":0.0528},{"p":4,"x":-0.24,"y":0.0568},{"p":4,"x":-0.19,"y":0.0667},{"p":4,"x":-0.14,"y":0.0707},{"p":4,"x":-0.11,"y":0.062},{"p":4,"x":-0.05,"y":0.0707},{"p":4,"x":-0.12,"y":0.0794},{"p":4,"x":-0.12,"y":0.0867},{"p":4,"x":-0.16,"y":0.0946},{"p":4,"x":-0.27,"y":0.0974},
      {"p":4,"x":-1.17,"y":0.0513},{"p":4,"x":-1.1,"y":0.0463},{"p":4,"x":-1.03,"y":0.0456},{"p":4,"x":-1.33,"y":0.0648},{"p":4,"x":-1.25,"y":0.062},{"p":4,"x":-1.28,"y":0.0696},{"p":4,"x":-1.37,"y":0.076},{"p":4,"x":-1.33,"y":0.083},{"p":4,"x":-1.41,"y":0.0913},{"p":4,"x":-1.19,"y":0.0924},{"p":4,"x":-1.14,"y":0.0951},{"p":4,"x":-1.09,"y":0.0974},{"p":4,"x":-1.47,"y":0.0988},{"p":4,"x":-1.68,"y":0.0988},
      {"p":4,"x":-0.17,"y":0.011},{"p":4,"x":-1.33,"y":0.0109},{"p":4,"x":-3.37,"y":0.0123},{"p":4,"x":-2.85,"y":0.0132},{"p":4,"x":-1.2,"y":0.00828},{"p":4,"x":-1.04,"y":0.0081},{"p":4,"x":-0.27,"y":0.00669},{"p":4,"x":0.06,"y":0.00722},{"p":4,"x":-0.35,"y":0.00535},{"p":4,"x":-0.87,"y":0.00483},{"p":4,"x":-0.52,"y":0.00462},{"p":4,"x":-0.68,"y":0.00374}
    ]
  },
  "concat": [
    {
      "width": 490, "height": 401,
      "title": "m=2 E=1.00E-05 η=0.710 ε=-0.500",
      "resolve": {"axis": {"x": "independent", "y": "independent"}},
      "layer": [
        {"data": {"name": "pts"}, "transform": [{"filter": "datum.p == 1"}],
         "mark": {"type": "point", "shape": "M-1,0L1,0M0,-1L0,1", "filled": false, "color": "#1a1a1a", "strokeWidth": 1, "opacity": 0.8, "size": 72, "clip": true},
         "encoding": {
           "x": {"field": "x", "type": "quantitative", "scale": {"domain": [-7, 1], "nice": false, "zero": false}, "axis": {"orient": "bottom", "values": [-6, -4, -2, 0], "tickSize": -10, "labelPadding": 16, "labelExpr": "'' + datum.value", "title": "Eigenfrequency", "titlePadding": 6}},
           "y": {"field": "y", "type": "quantitative", "scale": {"type": "log", "domain": [0.00256, 0.1], "nice": false}, "axis": {"orient": "left", "values": [0.01, 0.1], "format": ".2f", "tickSize": -10, "labelPadding": 18, "labelFlush": true, "title": "|Damping rate|", "titlePadding": 10}}
         }},
        {"data": {"name": "pts"}, "transform": [{"filter": "datum.p == 1"}], "mark": {"type": "point", "opacity": 0},
         "encoding": {
           "x": {"field": "x", "type": "quantitative", "scale": {"domain": [-7, 1], "nice": false, "zero": false}, "axis": {"orient": "bottom", "values": [-6.5, -6, -5.5, -5, -4.5, -4, -3.5, -3, -2.5, -2, -1.5, -1, -0.5, 0, 0.5], "tickSize": -5, "labels": false, "title": null}},
           "y": {"field": "y", "type": "quantitative", "scale": {"type": "log", "domain": [0.00256, 0.1], "nice": false}, "axis": {"orient": "left", "values": [0.003, 0.004, 0.005, 0.006, 0.007, 0.008, 0.009, 0.02, 0.03, 0.04, 0.05, 0.06, 0.07, 0.08, 0.09], "tickSize": -5, "labels": false, "title": null}}
         }},
        {"data": {"name": "pts"}, "transform": [{"filter": "datum.p == 1"}], "mark": {"type": "point", "opacity": 0},
         "encoding": {
           "x": {"field": "x", "type": "quantitative", "scale": {"domain": [-7, 1], "nice": false, "zero": false}, "axis": {"orient": "top", "values": [-6, -4, -2, 0], "tickSize": -10, "labels": false, "title": null}},
           "y": {"field": "y", "type": "quantitative", "scale": {"type": "log", "domain": [0.00256, 0.1], "nice": false}, "axis": {"orient": "right", "values": [0.01, 0.1], "tickSize": -10, "labels": false, "title": null}}
         }},
        {"data": {"name": "pts"}, "transform": [{"filter": "datum.p == 1"}], "mark": {"type": "point", "opacity": 0},
         "encoding": {
           "x": {"field": "x", "type": "quantitative", "scale": {"domain": [-7, 1], "nice": false, "zero": false}, "axis": {"orient": "top", "values": [-6.5, -6, -5.5, -5, -4.5, -4, -3.5, -3, -2.5, -2, -1.5, -1, -0.5, 0, 0.5], "tickSize": -5, "labels": false, "title": null}},
           "y": {"field": "y", "type": "quantitative", "scale": {"type": "log", "domain": [0.00256, 0.1], "nice": false}, "axis": {"orient": "right", "values": [0.003, 0.004, 0.005, 0.006, 0.007, 0.008, 0.009, 0.02, 0.03, 0.04, 0.05, 0.06, 0.07, 0.08, 0.09], "tickSize": -5, "labels": false, "title": null}}
         }},
        {"data": {"name": "lines"}, "transform": [{"filter": "datum.p == 1"}], "mark": {"type": "rule", "strokeWidth": 1.5},
         "encoding": {
           "x": {"field": "x", "type": "quantitative", "scale": {"domain": [-7, 1], "nice": false, "zero": false}, "axis": null},
           "color": {"field": "c", "type": "nominal", "scale": {"domain": ["red", "blue", "orange"], "range": ["#e3191c", "#1f3bd8", "#f5a42a"]}, "legend": null},
           "strokeDash": {"field": "d", "type": "nominal", "scale": {"domain": ["s", "d"], "range": [[1, 0], [8, 5]]}, "legend": null}
         }},
        {"data": {"name": "dia"}, "transform": [{"filter": "datum.p == 1"}],
         "mark": {"type": "point", "shape": "diamond", "filled": false, "color": "#d42020", "strokeWidth": 1, "size": 60, "clip": true},
         "encoding": {
           "x": {"field": "x", "type": "quantitative", "scale": {"domain": [-7, 1], "nice": false, "zero": false}, "axis": null},
           "y": {"field": "y", "type": "quantitative", "scale": {"type": "log", "domain": [0.00256, 0.1], "nice": false}, "axis": null}
         }}
      ]
    },
    {
      "width": 490, "height": 401,
      "title": "m=2 E=1.00E-05 η=0.710 ε=-0.250",
      "resolve": {"axis": {"x": "independent", "y": "independent"}},
      "layer": [
        {"data": {"name": "pts"}, "transform": [{"filter": "datum.p == 2"}],
         "mark": {"type": "point", "shape": "M-1,0L1,0M0,-1L0,1", "filled": false, "color": "#1a1a1a", "strokeWidth": 1, "opacity": 0.8, "size": 72, "clip": true},
         "encoding": {
           "x": {"field": "x", "type": "quantitative", "scale": {"domain": [-7, 1], "nice": false, "zero": false}, "axis": {"orient": "bottom", "values": [-6, -4, -2, 0], "tickSize": -10, "labelPadding": 16, "labelExpr": "'' + datum.value", "title": "Eigenfrequency", "titlePadding": 6}},
           "y": {"field": "y", "type": "quantitative", "scale": {"type": "log", "domain": [0.00295, 0.1], "nice": false}, "axis": {"orient": "left", "values": [0.01, 0.1], "format": ".2f", "tickSize": -10, "labelPadding": 18, "labelFlush": true, "title": "|Damping rate|", "titlePadding": 10}}
         }},
        {"data": {"name": "pts"}, "transform": [{"filter": "datum.p == 2"}], "mark": {"type": "point", "opacity": 0},
         "encoding": {
           "x": {"field": "x", "type": "quantitative", "scale": {"domain": [-7, 1], "nice": false, "zero": false}, "axis": {"orient": "bottom", "values": [-6.5, -6, -5.5, -5, -4.5, -4, -3.5, -3, -2.5, -2, -1.5, -1, -0.5, 0, 0.5], "tickSize": -5, "labels": false, "title": null}},
           "y": {"field": "y", "type": "quantitative", "scale": {"type": "log", "domain": [0.00295, 0.1], "nice": false}, "axis": {"orient": "left", "values": [0.003, 0.004, 0.005, 0.006, 0.007, 0.008, 0.009, 0.02, 0.03, 0.04, 0.05, 0.06, 0.07, 0.08, 0.09], "tickSize": -5, "labels": false, "title": null}}
         }},
        {"data": {"name": "pts"}, "transform": [{"filter": "datum.p == 2"}], "mark": {"type": "point", "opacity": 0},
         "encoding": {
           "x": {"field": "x", "type": "quantitative", "scale": {"domain": [-7, 1], "nice": false, "zero": false}, "axis": {"orient": "top", "values": [-6, -4, -2, 0], "tickSize": -10, "labels": false, "title": null}},
           "y": {"field": "y", "type": "quantitative", "scale": {"type": "log", "domain": [0.00295, 0.1], "nice": false}, "axis": {"orient": "right", "values": [0.01, 0.1], "tickSize": -10, "labels": false, "title": null}}
         }},
        {"data": {"name": "pts"}, "transform": [{"filter": "datum.p == 2"}], "mark": {"type": "point", "opacity": 0},
         "encoding": {
           "x": {"field": "x", "type": "quantitative", "scale": {"domain": [-7, 1], "nice": false, "zero": false}, "axis": {"orient": "top", "values": [-6.5, -6, -5.5, -5, -4.5, -4, -3.5, -3, -2.5, -2, -1.5, -1, -0.5, 0, 0.5], "tickSize": -5, "labels": false, "title": null}},
           "y": {"field": "y", "type": "quantitative", "scale": {"type": "log", "domain": [0.00295, 0.1], "nice": false}, "axis": {"orient": "right", "values": [0.003, 0.004, 0.005, 0.006, 0.007, 0.008, 0.009, 0.02, 0.03, 0.04, 0.05, 0.06, 0.07, 0.08, 0.09], "tickSize": -5, "labels": false, "title": null}}
         }},
        {"data": {"name": "lines"}, "transform": [{"filter": "datum.p == 2"}], "mark": {"type": "rule", "strokeWidth": 1.5},
         "encoding": {
           "x": {"field": "x", "type": "quantitative", "scale": {"domain": [-7, 1], "nice": false, "zero": false}, "axis": null},
           "color": {"field": "c", "type": "nominal", "scale": {"domain": ["red", "blue", "orange"], "range": ["#e3191c", "#1f3bd8", "#f5a42a"]}, "legend": null}
         }}
      ]
    },
    {
      "width": 490, "height": 401,
      "title": "m=2 E=1.00E-05 η=0.710 ε=0.300",
      "resolve": {"axis": {"x": "independent", "y": "independent"}},
      "layer": [
        {"data": {"name": "pts"}, "transform": [{"filter": "datum.p == 3"}],
         "mark": {"type": "point", "shape": "M-1,0L1,0M0,-1L0,1", "filled": false, "color": "#1a1a1a", "strokeWidth": 1, "opacity": 0.8, "size": 72, "clip": true},
         "encoding": {
           "x": {"field": "x", "type": "quantitative", "scale": {"domain": [-7, 1], "nice": false, "zero": false}, "axis": {"orient": "bottom", "values": [-6, -4, -2, 0], "tickSize": -10, "labelPadding": 16, "labelExpr": "'' + datum.value", "title": "Eigenfrequency", "titlePadding": 6}},
           "y": {"field": "y", "type": "quantitative", "scale": {"type": "log", "domain": [0.00168, 0.1], "nice": false}, "axis": {"orient": "left", "values": [0.01, 0.1], "format": ".2f", "tickSize": -10, "labelPadding": 18, "labelFlush": true, "title": "|Damping rate|", "titlePadding": 10}}
         }},
        {"data": {"name": "pts"}, "transform": [{"filter": "datum.p == 3"}], "mark": {"type": "point", "opacity": 0},
         "encoding": {
           "x": {"field": "x", "type": "quantitative", "scale": {"domain": [-7, 1], "nice": false, "zero": false}, "axis": {"orient": "bottom", "values": [-6.5, -6, -5.5, -5, -4.5, -4, -3.5, -3, -2.5, -2, -1.5, -1, -0.5, 0, 0.5], "tickSize": -5, "labels": false, "title": null}},
           "y": {"field": "y", "type": "quantitative", "scale": {"type": "log", "domain": [0.00168, 0.1], "nice": false}, "axis": {"orient": "left", "values": [0.002, 0.003, 0.004, 0.005, 0.006, 0.007, 0.008, 0.009, 0.02, 0.03, 0.04, 0.05, 0.06, 0.07, 0.08, 0.09], "tickSize": -5, "labels": false, "title": null}}
         }},
        {"data": {"name": "pts"}, "transform": [{"filter": "datum.p == 3"}], "mark": {"type": "point", "opacity": 0},
         "encoding": {
           "x": {"field": "x", "type": "quantitative", "scale": {"domain": [-7, 1], "nice": false, "zero": false}, "axis": {"orient": "top", "values": [-6, -4, -2, 0], "tickSize": -10, "labels": false, "title": null}},
           "y": {"field": "y", "type": "quantitative", "scale": {"type": "log", "domain": [0.00168, 0.1], "nice": false}, "axis": {"orient": "right", "values": [0.01, 0.1], "tickSize": -10, "labels": false, "title": null}}
         }},
        {"data": {"name": "pts"}, "transform": [{"filter": "datum.p == 3"}], "mark": {"type": "point", "opacity": 0},
         "encoding": {
           "x": {"field": "x", "type": "quantitative", "scale": {"domain": [-7, 1], "nice": false, "zero": false}, "axis": {"orient": "top", "values": [-6.5, -6, -5.5, -5, -4.5, -4, -3.5, -3, -2.5, -2, -1.5, -1, -0.5, 0, 0.5], "tickSize": -5, "labels": false, "title": null}},
           "y": {"field": "y", "type": "quantitative", "scale": {"type": "log", "domain": [0.00168, 0.1], "nice": false}, "axis": {"orient": "right", "values": [0.002, 0.003, 0.004, 0.005, 0.006, 0.007, 0.008, 0.009, 0.02, 0.03, 0.04, 0.05, 0.06, 0.07, 0.08, 0.09], "tickSize": -5, "labels": false, "title": null}}
         }},
        {"data": {"name": "lines"}, "transform": [{"filter": "datum.p == 3"}], "mark": {"type": "rule", "strokeWidth": 1.5},
         "encoding": {
           "x": {"field": "x", "type": "quantitative", "scale": {"domain": [-7, 1], "nice": false, "zero": false}, "axis": null},
           "color": {"field": "c", "type": "nominal", "scale": {"domain": ["red", "blue", "orange"], "range": ["#e3191c", "#1f3bd8", "#f5a42a"]}, "legend": null}
         }}
      ]
    },
    {
      "width": 490, "height": 401,
      "title": "m=2 E=1.00E-05 η=0.710 ε=0.600",
      "resolve": {"axis": {"x": "independent", "y": "independent"}},
      "layer": [
        {"data": {"name": "pts"}, "transform": [{"filter": "datum.p == 4"}],
         "mark": {"type": "point", "shape": "M-1,0L1,0M0,-1L0,1", "filled": false, "color": "#1a1a1a", "strokeWidth": 1, "opacity": 0.8, "size": 72, "clip": true},
         "encoding": {
           "x": {"field": "x", "type": "quantitative", "scale": {"domain": [-7, 1], "nice": false, "zero": false}, "axis": {"orient": "bottom", "values": [-6, -4, -2, 0], "tickSize": -10, "labelPadding": 16, "labelExpr": "'' + datum.value", "title": "Eigenfrequency", "titlePadding": 6}},
           "y": {"field": "y", "type": "quantitative", "scale": {"type": "log", "domain": [0.00299, 0.1], "nice": false}, "axis": {"orient": "left", "values": [0.01, 0.1], "format": ".2f", "tickSize": -10, "labelPadding": 18, "labelFlush": true, "title": "|Damping rate|", "titlePadding": 10}}
         }},
        {"data": {"name": "pts"}, "transform": [{"filter": "datum.p == 4"}], "mark": {"type": "point", "opacity": 0},
         "encoding": {
           "x": {"field": "x", "type": "quantitative", "scale": {"domain": [-7, 1], "nice": false, "zero": false}, "axis": {"orient": "bottom", "values": [-6.5, -6, -5.5, -5, -4.5, -4, -3.5, -3, -2.5, -2, -1.5, -1, -0.5, 0, 0.5], "tickSize": -5, "labels": false, "title": null}},
           "y": {"field": "y", "type": "quantitative", "scale": {"type": "log", "domain": [0.00299, 0.1], "nice": false}, "axis": {"orient": "left", "values": [0.003, 0.004, 0.005, 0.006, 0.007, 0.008, 0.009, 0.02, 0.03, 0.04, 0.05, 0.06, 0.07, 0.08, 0.09], "tickSize": -5, "labels": false, "title": null}}
         }},
        {"data": {"name": "pts"}, "transform": [{"filter": "datum.p == 4"}], "mark": {"type": "point", "opacity": 0},
         "encoding": {
           "x": {"field": "x", "type": "quantitative", "scale": {"domain": [-7, 1], "nice": false, "zero": false}, "axis": {"orient": "top", "values": [-6, -4, -2, 0], "tickSize": -10, "labels": false, "title": null}},
           "y": {"field": "y", "type": "quantitative", "scale": {"type": "log", "domain": [0.00299, 0.1], "nice": false}, "axis": {"orient": "right", "values": [0.01, 0.1], "tickSize": -10, "labels": false, "title": null}}
         }},
        {"data": {"name": "pts"}, "transform": [{"filter": "datum.p == 4"}], "mark": {"type": "point", "opacity": 0},
         "encoding": {
           "x": {"field": "x", "type": "quantitative", "scale": {"domain": [-7, 1], "nice": false, "zero": false}, "axis": {"orient": "top", "values": [-6.5, -6, -5.5, -5, -4.5, -4, -3.5, -3, -2.5, -2, -1.5, -1, -0.5, 0, 0.5], "tickSize": -5, "labels": false, "title": null}},
           "y": {"field": "y", "type": "quantitative", "scale": {"type": "log", "domain": [0.00299, 0.1], "nice": false}, "axis": {"orient": "right", "values": [0.003, 0.004, 0.005, 0.006, 0.007, 0.008, 0.009, 0.02, 0.03, 0.04, 0.05, 0.06, 0.07, 0.08, 0.09], "tickSize": -5, "labels": false, "title": null}}
         }},
        {"data": {"name": "lines"}, "transform": [{"filter": "datum.p == 4"}], "mark": {"type": "rule", "strokeWidth": 1.5},
         "encoding": {
           "x": {"field": "x", "type": "quantitative", "scale": {"domain": [-7, 1], "nice": false, "zero": false}, "axis": null},
           "color": {"field": "c", "type": "nominal", "scale": {"domain": ["red", "blue", "orange"], "range": ["#e3191c", "#1f3bd8", "#f5a42a"]}, "legend": null}
         }},
        {"data": {"name": "dia"}, "transform": [{"filter": "datum.p == 4"}],
         "mark": {"type": "point", "shape": "diamond", "filled": false, "color": "#d42020", "strokeWidth": 1, "size": 60, "clip": true},
         "encoding": {
           "x": {"field": "x", "type": "quantitative", "scale": {"domain": [-7, 1], "nice": false, "zero": false}, "axis": null},
           "y": {"field": "y", "type": "quantitative", "scale": {"type": "log", "domain": [0.00299, 0.1], "nice": false}, "axis": null}
         }}
      ]
    }
  ],
  "config": {
    "view": {"stroke": "#4d4d4d", "strokeWidth": 1},
    "axis": {"domain": false, "grid": false, "tickColor": "#4d4d4d", "tickWidth": 1, "labelFont": "DejaVu Sans", "labelFontSize": 16, "labelFontWeight": "bold", "labelColor": "#000000", "titleFont": "DejaVu Sans", "titleFontSize": 16, "titleFontWeight": "bold", "titleColor": "#000000"},
    "title": {"font": "DejaVu Sans", "fontSize": 19, "fontWeight": "bold", "color": "#000000", "offset": 6}
  }
}
